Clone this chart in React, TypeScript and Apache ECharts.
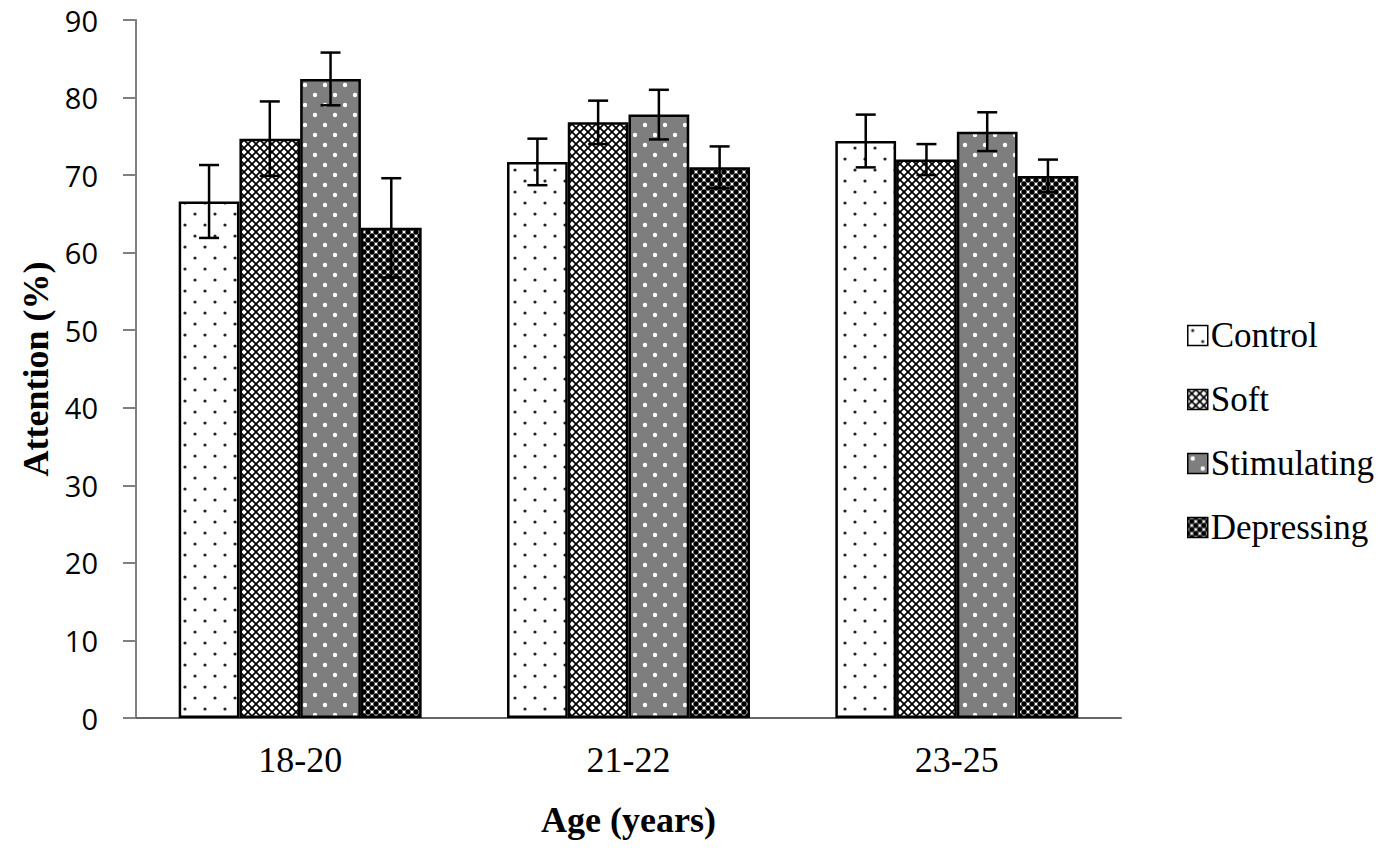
import React, { useEffect, useRef } from "react";
import * as echarts from "echarts";

const categories = ["18-20", "21-22", "23-25"];
const seriesNames = ["Control", "Soft", "Stimulating", "Depressing"];
const controlValues = [66.6, 71.7, 74.4];
const controlErrors = [4.7, 3.0, 3.4];
const softValues = [74.7, 76.8, 72.0];
const softErrors = [4.8, 2.8, 2.0];
const stimulatingValues = [82.4, 77.8, 75.6];
const stimulatingErrors = [3.4, 3.2, 2.5];
const depressingValues = [63.2, 71.0, 69.9];
const depressingErrors = [6.4, 2.7, 2.1];
const yMin = 0;
const yMax = 90;
const yInterval = 10;

const allValues = [controlValues, softValues, stimulatingValues, depressingValues];
const allErrors = [controlErrors, softErrors, stimulatingErrors, depressingErrors];

const CAT_GAP = 0.26;

function makeTile(w: number, h: number, draw: (c: CanvasRenderingContext2D) => void) {
  const cv = document.createElement("canvas");
  cv.width = w;
  cv.height = h;
  const ctx = cv.getContext("2d") as CanvasRenderingContext2D;
  draw(ctx);
  return { image: cv, repeat: "repeat", imageWidth: w, imageHeight: h } as any;
}

function diag(ctx: CanvasRenderingContext2D, s: number, lw: number) {
  ctx.strokeStyle = "#000";
  ctx.lineWidth = lw;
  for (let o = -s; o <= s; o += s) {
    ctx.beginPath();
    ctx.moveTo(o - 1, -1);
    ctx.lineTo(o + s + 1, s + 1);
    ctx.stroke();
    ctx.beginPath();
    ctx.moveTo(o + s + 1, -1);
    ctx.lineTo(o - 1, s + 1);
    ctx.stroke();
  }
}

function dots(c: CanvasRenderingContext2D, pts: number[][], r: number) {
  pts.forEach(([x, y]) => {
    c.beginPath();
    c.arc(x, y, r, 0, Math.PI * 2);
    c.fill();
  });
}

function makePatterns() {
  const control = makeTile(20, 22, (c) => {
    c.fillStyle = "#fff";
    c.fillRect(0, 0, 20, 22);
    c.fillStyle = "#222";
    dots(c, [[5, 5], [15, 16]], 1.6);
  });
  const soft = makeTile(8, 8, (c) => {
    c.fillStyle = "#fff";
    c.fillRect(0, 0, 8, 8);
    diag(c, 8, 1.7);
  });
  const stim = makeTile(20, 20, (c) => {
    c.fillStyle = "#7e7e7e";
    c.fillRect(0, 0, 20, 20);
    c.fillStyle = "#fff";
    dots(c, [[5, 5], [15, 15]], 2.2);
  });
  const dep = makeTile(8, 8, (c) => {
    c.fillStyle = "#fff";
    c.fillRect(0, 0, 8, 8);
    c.fillStyle = "#000";
    dots(c, [[0, 0], [8, 0], [0, 8], [8, 8], [4, 4]], 2.7);
  });
  return [control, soft, stim, dep];
}

export default function App() {
  const ref = useRef<HTMLDivElement>(null);
  useEffect(() => {
    if (!ref.current) return;
    const chart = echarts.init(ref.current, undefined, { renderer: "svg" });
    const patterns = makePatterns();
    const serif = "Liberation Serif";

    const barSeries = seriesNames.map((name, i) => ({
      name,
      type: "bar",
      data: allValues[i],
      barGap: "0%",
      barCategoryGap: CAT_GAP * 100 + "%",
      itemStyle: { color: patterns[i], borderColor: "#000", borderWidth: 2.5 },
      z: 2,
    }));

    const errSeries = seriesNames.map((name, i) => ({
      name: "err-" + name,
      type: "custom",
      z: 5,
      data: categories.map((_, k) => [k, allValues[i][k] - allErrors[i][k], allValues[i][k] + allErrors[i][k]]),
      encode: { x: 0, y: [1, 2] },
      renderItem: (params: any, api: any) => {
        const cat = api.value(0);
        const lo = api.value(1);
        const hi = api.value(2);
        const catW = api.size([1, 0])[0];
        const barW = (catW * (1 - CAT_GAP)) / 4;
        const cx = api.coord([cat, 0])[0] - 2 * barW + (i + 0.5) * barW;
        const yHi = api.coord([cat, hi])[1];
        const yLo = api.coord([cat, lo])[1];
        const style = { stroke: "#000", lineWidth: 2.5 };
        const cap = 10;
        return {
          type: "group",
          children: [
            { type: "line", shape: { x1: cx, y1: yHi, x2: cx, y2: yLo }, style },
            { type: "line", shape: { x1: cx - cap, y1: yHi, x2: cx + cap, y2: yHi }, style },
            { type: "line", shape: { x1: cx - cap, y1: yLo, x2: cx + cap, y2: yLo }, style },
          ],
        };
      },
    }));

    chart.setOption({
      animation: false,
      backgroundColor: "#fff",
      grid: { left: 136, top: 20, right: 279, bottom: 142 },
      legend: {
        data: seriesNames,
        orient: "vertical",
        left: 1182,
        top: 313,
        itemWidth: 20,
        itemHeight: 20,
        itemGap: 29,
        icon: "rect",
        textStyle: { fontFamily: serif, fontSize: 35, color: "#000", padding: [0, 0, 0, -2] },
        itemStyle: { borderColor: "#000", borderWidth: 1.5 },
      },
      xAxis: {
        type: "category",
        data: categories,
        axisTick: { show: false },
        axisLine: { lineStyle: { color: "#666", width: 2 } },
        axisLabel: { fontFamily: serif, fontSize: 36, color: "#000", margin: 24 },
        name: "Age (years)",
        nameLocation: "middle",
        nameGap: 84,
        nameTextStyle: { fontFamily: serif, fontSize: 36, fontWeight: "bold", color: "#000" },
      },
      yAxis: {
        type: "value",
        min: yMin,
        max: yMax,
        interval: yInterval,
        splitLine: { show: false },
        axisLine: { show: true, lineStyle: { color: "#808080", width: 2 } },
        axisTick: { show: true, length: 13, lineStyle: { color: "#808080", width: 2 } },
        axisLabel: { fontFamily: "Open Sans", fontSize: 29, color: "#000", margin: 38 },
        name: "Attention (%)",
        nameLocation: "middle",
        nameRotate: 90,
        nameGap: 78,
        nameTextStyle: { fontFamily: serif, fontSize: 36, fontWeight: "bold", color: "#000" },
      },
      series: [...barSeries, ...errSeries],
    } as any);
    return () => chart.dispose();
  }, []);
  return <div ref={ref} style={{ width: 1400, height: 860, margin: -8 }} />;
}
